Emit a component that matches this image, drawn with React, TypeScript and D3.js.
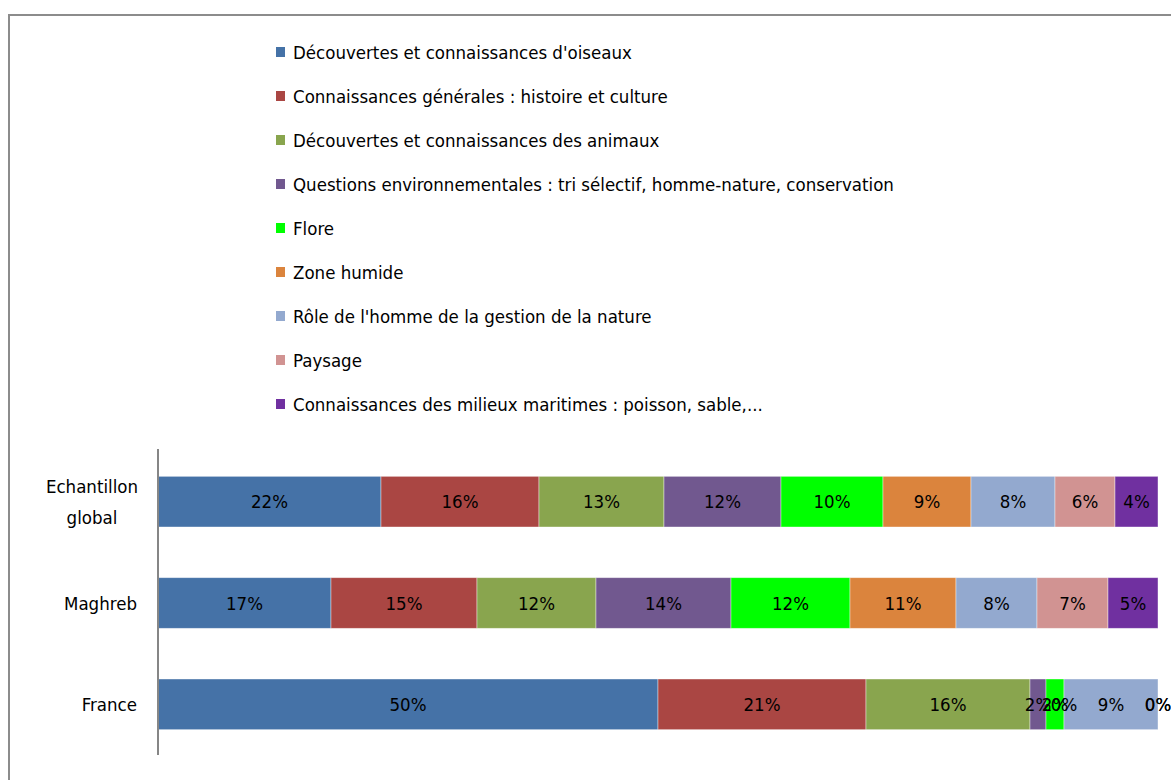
import React from "react";
import * as d3 from "d3";

const categories = ["Echantillon global", "Maghreb", "France"];
const seriesNames = [
  "Découvertes et connaissances d'oiseaux",
  "Connaissances générales : histoire et culture",
  "Découvertes et connaissances des animaux",
  "Questions environnementales : tri sélectif, homme-nature, conservation",
  "Flore",
  "Zone humide",
  "Rôle de l'homme de la gestion de la nature",
  "Paysage",
  "Connaissances des milieux maritimes  : poisson, sable,...",
];
const seriesColors = [
  "#4572A7", "#AA4643", "#89A54E", "#71588F", "#00FF00",
  "#DB843D", "#93A9CF", "#D19392", "#7030A0",
];
// values per category (percent), order follows seriesNames
const echantillonValues = [22.3, 15.8, 12.5, 11.7, 10.2, 8.8, 8.4, 6.0, 4.3];
const maghrebValues = [17.3, 14.6, 11.9, 13.5, 11.9, 10.6, 8.1, 7.1, 5.0];
const franceValues = [50.0, 20.8, 16.4, 1.6, 1.8, 0, 9.4, 0, 0];
const allValues = [echantillonValues, maghrebValues, franceValues];

const W = 1171;
const H = 780;
const FONT = "'DejaVu Sans Condensed', 'Liberation Sans Narrow', sans-serif";
const FS = 18.5;

export default function App() {
  const x = d3.scaleLinear().domain([0, 100]).range([158, 1158]);
  const y = d3.scaleBand().domain(categories).range([451, 755]).paddingInner(0.5).paddingOuter(0.25);
  const rows = categories.map((c, i) => {
    const vals = allValues[i];
    let acc = 0;
    return vals.map((v, j) => {
      const x0 = acc;
      acc += v;
      return { c, j, v, x0, x1: acc };
    });
  });
  const legendY = d3.scaleLinear().domain([0, 8]).range([52, 404]);

  return (
    <svg width={W} height={H} style={{ position: "absolute", left: 0, top: 0, background: "#fff" }} fontFamily={FONT}>
      <rect x={9} y={15} width={W + 20} height={H + 20} fill="#fff" stroke="#8c8c8c" strokeWidth={2} />
      {seriesNames.map((s, i) => (
        <g key={s} transform={`translate(0,${legendY(i)})`}>
          <rect x={276} y={-5} width={9} height={10} fill={seriesColors[i]} />
          <text x={293} y={0} dy="0.36em" fontSize={FS} fill="#000">{s}</text>
        </g>
      ))}
      {rows.map((segs, i) => (
        <g key={categories[i]}>
          {segs.map((d) => (
            <rect
              key={d.j}
              x={x(d.x0)}
              y={y(d.c)}
              width={x(d.x1) - x(d.x0)}
              height={y.bandwidth()}
              fill={seriesColors[d.j]}
              stroke="#ffffff"
              strokeOpacity={0.5}
              strokeWidth={0.8}
            />
          ))}
          {segs.map((d) => (
            <text
              key={"t" + d.j}
              x={(x(d.x0) + x(d.x1)) / 2}
              y={y(d.c)! + y.bandwidth() / 2}
              dy="0.36em"
              textAnchor="middle"
              fontSize={FS}
              fill="#000"
            >
              {d3.format(".0f")(d.v) + "%"}
            </text>
          ))}
        </g>
      ))}
      <line x1={158} x2={158} y1={449} y2={755} stroke="#868686" strokeWidth={2} />
      {categories.map((c) => {
        const cy = y(c)! + y.bandwidth() / 2;
        const lines = c === "Echantillon global" ? ["Echantillon", "global"] : [c];
        return (
          <text key={c} fontSize={FS} fill="#000">
            {lines.map((l, k) => (
              <tspan key={k} x={lines.length > 1 ? 92 : 137} textAnchor={lines.length > 1 ? "middle" : "end"} y={cy + (k - (lines.length - 1) / 2) * 31} dy="0.36em">{l}</tspan>
            ))}
          </text>
        );
      })}
    </svg>
  );
}
